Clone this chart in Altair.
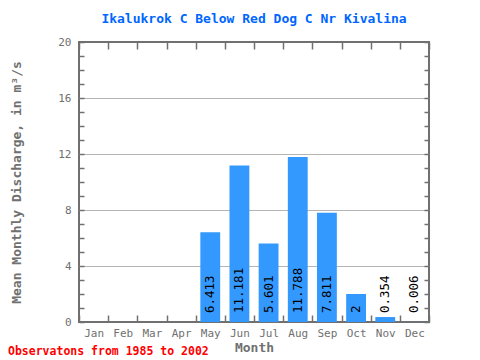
import altair as alt
import pandas as pd

months = ["Jan", "Feb", "Mar", "Apr", "May", "Jun", "Jul", "Aug", "Sep", "Oct", "Nov", "Dec"]
discharge = [None, None, None, None, 6.413, 11.181, 5.601, 11.788, 7.811, 2, 0.354, 0.006]
bar_labels = ["", "", "", "", "6.413", "11.181", "5.601", "11.788", "7.811", "2", "0.354", "0.006"]
y_tick_values = list(range(0, 21))
chart_title = "Ikalukrok C Below Red Dog C Nr Kivalina"
y_title = "Mean Monthly Discharge, in  m\u00b3/s"
x_title = "Month"
footer = "Observatons from 1985 to 2002"

df = pd.DataFrame({"month": months, "q": discharge, "label": bar_labels})

W, H = 350, 280
FONT = "DejaVu Sans Mono"
GRAY = "#707070"

xscale = alt.Scale(domain=months, paddingInner=0, paddingOuter=0)
yscale = alt.Scale(domain=[0, 20], nice=False, zero=True)

bars = alt.Chart(df).mark_bar(color="#3399ff", width=alt.RelativeBandSize(0.68)).encode(
    x=alt.X("month:N", scale=xscale, sort=months,
            axis=alt.Axis(orient="bottom", title=x_title, tickBand="extent", tickSize=7, offset=-7,
                          domain=False, labelAngle=0, labelPadding=5, titlePadding=3,
                          labelFontSize=11, titleFontSize=13, titleFontWeight="bold")),
    y=alt.Y("q:Q", scale=yscale,
            axis=alt.Axis(orient="left", title=y_title, values=y_tick_values,
                          labelExpr="datum.value % 4 == 0 ? datum.label : ''",
                          grid=True,
                          gridOpacity={"condition": {"test": "datum.value % 4 == 0 && datum.value > 0 && datum.value < 20", "value": 1}, "value": 0},
                          tickSize=5, offset=-5, domain=False, labelPadding=8, titlePadding=34,
                          labelFontSize=11, titleFontSize=13, titleFontWeight="bold")),
)

texts = alt.Chart(df).transform_filter("datum.q != null").transform_calculate(base="0").mark_text(
    angle=270, align="left", baseline="middle", dx=9, fontSize=12.5, font=FONT, color="black"
).encode(
    x=alt.X("month:N", scale=xscale, sort=months,
            axis=alt.Axis(orient="top", title=None, labels=False, tickBand="extent", tickSize=7,
                          offset=-7, domain=False)),
    y=alt.Y("base:Q", scale=yscale,
            axis=alt.Axis(orient="right", title=None, labels=False, values=y_tick_values,
                          tickSize=5, offset=-5, domain=False, grid=False)),
    text="label:N",
)

note = alt.Chart(pd.DataFrame({"note": [footer]})).mark_text(
    align="left", baseline="middle", color="red", fontWeight="bold", font=FONT, fontSize=11.5
).encode(x=alt.value(-71), y=alt.value(H + 30), text="note:N")

chart = alt.layer(bars, texts, note).resolve_axis(x="independent", y="independent").properties(
    width=W, height=H,
    title=alt.TitleParams(text=chart_title, color="#0066ff", font=FONT, fontSize=13, fontWeight="bold",
                          anchor="middle", frame="group", offset=10),
    autosize=alt.AutoSizeParams(type="none"),
    padding={"left": 71, "top": 34, "right": 43, "bottom": 40},
).configure_view(stroke=GRAY, strokeWidth=2).configure_axis(
    labelFont=FONT, titleFont=FONT, labelColor=GRAY, titleColor=GRAY, tickColor=GRAY,
    tickWidth=1.5, gridColor="#b4b4b4", gridWidth=1
)

chart.save("out.html", embed_options={"renderer": "svg", "actions": False})
